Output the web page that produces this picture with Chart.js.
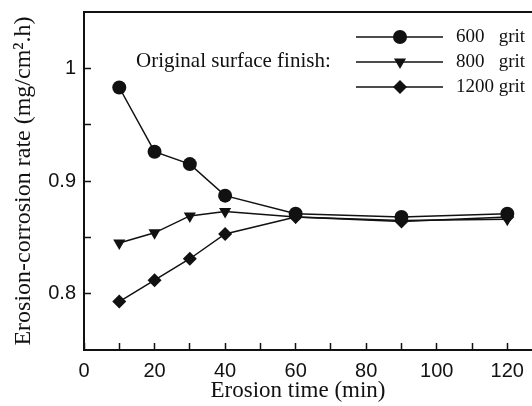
<!DOCTYPE html>
<html>
<head>
<meta charset="utf-8">
<script src="https://cdn.jsdelivr.net/npm/chart.js@4"></script>
<style>
  body { margin: 0; background: #fff; }
  #wrap { width: 532px; height: 406px; }
</style>
</head>
<body>
<div id="wrap"><canvas id="myChart"></canvas></div>
<script>
//static data
let times = [10, 20, 30, 40, 60, 90, 120];
let grit600 = [0.983, 0.926, 0.915, 0.887, 0.871, 0.868, 0.871];
let grit800 = [0.845, 0.854, 0.869, 0.873, 0.868, 0.865, 0.866];
let grit1200 = [0.793, 0.812, 0.831, 0.853, 0.868, 0.864, 0.868];
let seriesNames = ['600   grit', '800   grit', '1200 grit'];
let legendTitle = 'Original surface finish:';
let xTitle = 'Erosion time (min)';
let xTickLabels = [0, 20, 40, 60, 80, 100, 120];
let xTickMarks = [0, 10, 20, 30, 40, 50, 60, 70, 80, 90, 100, 110, 120];
let yTickLabels = [0.8, 0.9, 1];
let yTickMarks = [0.8, 0.85, 0.9, 0.95, 1];

function toPoints(values)
{
    let pts = [];
    for(let i=0; i<times.length; i++)
    {
        pts.push({x: times[i], y: values[i]});
    }
    return pts;
}

let markers = [
    {pointStyle: 'circle', radius: 7, rotation: 0},
    {pointStyle: 'triangle', radius: 7, rotation: 180},
    {pointStyle: 'rectRot', radius: 7, rotation: 0}
];

function makeDataset(label, values, m)
{
    return {
        label: label,
        data: toPoints(values),
        borderColor: '#111',
        backgroundColor: '#111',
        borderWidth: 1.5,
        pointStyle: m.pointStyle,
        pointRadius: m.radius,
        pointRotation: m.rotation,
        pointBorderWidth: 0,
        pointBackgroundColor: '#111',
        tension: 0
    };
}

const serif = '"Liberation Serif", "Times New Roman", serif';
const sans = '"Liberation Sans", Arial, sans-serif';

//legend and x title drawn by hand
const insideLegend = {
    id: 'insideLegend',
    afterDraw(chart)
    {
        const ctx = chart.ctx;
        ctx.save();
        ctx.fillStyle = '#111';
        ctx.font = '21px ' + serif;
        ctx.textBaseline = 'middle';
        ctx.textAlign = 'left';
        ctx.fillText(legendTitle, 136, 61);

        ctx.font = '19px ' + serif;
        let rows = [37, 62, 87];
        for(let i=0; i<seriesNames.length; i++)
        {
            let y = rows[i];
            ctx.strokeStyle = '#111';
            ctx.lineWidth = 1.5;
            ctx.beginPath();
            ctx.moveTo(356, y);
            ctx.lineTo(443, y);
            ctx.stroke();
            ctx.fillStyle = '#111';
            Chart.helpers.drawPoint(ctx, {
                pointStyle: markers[i].pointStyle,
                radius: markers[i].radius,
                rotation: markers[i].rotation,
                borderWidth: 0
            }, 400, y);
            ctx.fillStyle = '#111';
            ctx.fillText(seriesNames[i], 456, y);
        }

        ctx.font = '23px ' + serif;
        ctx.textAlign = 'center';
        ctx.fillText(xTitle, 298, 391);
        ctx.restore();
    }
};

function setTicks(scale, list)
{
    scale.ticks = list.map(function(v) { return {value: v}; });
}

//no extra room for tick labels at the ends of the axes
function fixSize(scale, w, h)
{
    if(w) scale.width = w;
    if(h) scale.height = h;
    scale.paddingTop = 0;
    scale.paddingBottom = 0;
    scale.paddingLeft = 0;
    scale.paddingRight = 0;
}

const ctx = document.getElementById('myChart').getContext('2d');
const myChart = new Chart(ctx, {
    type: 'line',
    data: {
        datasets: [
            makeDataset(seriesNames[0], grit600, markers[0]),
            makeDataset(seriesNames[1], grit800, markers[1]),
            makeDataset(seriesNames[2], grit1200, markers[2])
        ]
    },
    options: {
        responsive: true,
        maintainAspectRatio: false,
        animation: false,
        layout: { padding: 0, autoPadding: false },
        plugins: {
            legend: { display: false },
            tooltip: { enabled: false }
        },
        scales: {
            x: {
                type: 'linear',
                min: 0,
                max: 127,
                afterBuildTicks: function(scale) { setTicks(scale, xTickMarks); },
                afterFit: function(scale) { fixSize(scale, 0, 56); },
                grid: {
                    drawOnChartArea: false,
                    tickLength: -7,
                    tickColor: '#111',
                    tickWidth: 1.5
                },
                border: { color: '#111', width: 2 },
                ticks: {
                    padding: 16,
                    maxRotation: 0,
                    autoSkip: false,
                    color: '#111',
                    font: { family: sans, size: 20 },
                    callback: function(v) {
                        return xTickLabels.indexOf(v) >= 0 ? String(v) : '';
                    }
                }
            },
            x2: {
                type: 'linear',
                position: 'top',
                min: 0,
                max: 127,
                afterFit: function(scale) { fixSize(scale, 0, 12); },
                grid: { display: false },
                ticks: { display: false },
                border: { display: true, color: '#111', width: 2 }
            },
            y: {
                min: 0.75,
                max: 1.05,
                afterBuildTicks: function(scale) { setTicks(scale, yTickMarks); },
                afterFit: function(scale) { fixSize(scale, 84, 0); },
                grid: {
                    drawOnChartArea: false,
                    tickLength: -7,
                    tickColor: '#111',
                    tickWidth: 1.5
                },
                border: { color: '#111', width: 2 },
                ticks: {
                    padding: 15,
                    autoSkip: false,
                    color: '#111',
                    font: { family: sans, size: 20 },
                    callback: function(v) {
                        for(let i=0; i<yTickLabels.length; i++)
                        {
                            if(Math.abs(yTickLabels[i] - v) < 1e-6) return String(yTickLabels[i]);
                        }
                        return '';
                    }
                },
                title: {
                    display: true,
                    text: 'Erosion-corrosion rate (mg/cm\u00b2.h)',
                    color: '#111',
                    padding: { top: 9, bottom: 0 },
                    font: { family: serif, size: 24 }
                }
            }
        }
    },
    plugins: [insideLegend]
});
</script>
</body>
</html>
